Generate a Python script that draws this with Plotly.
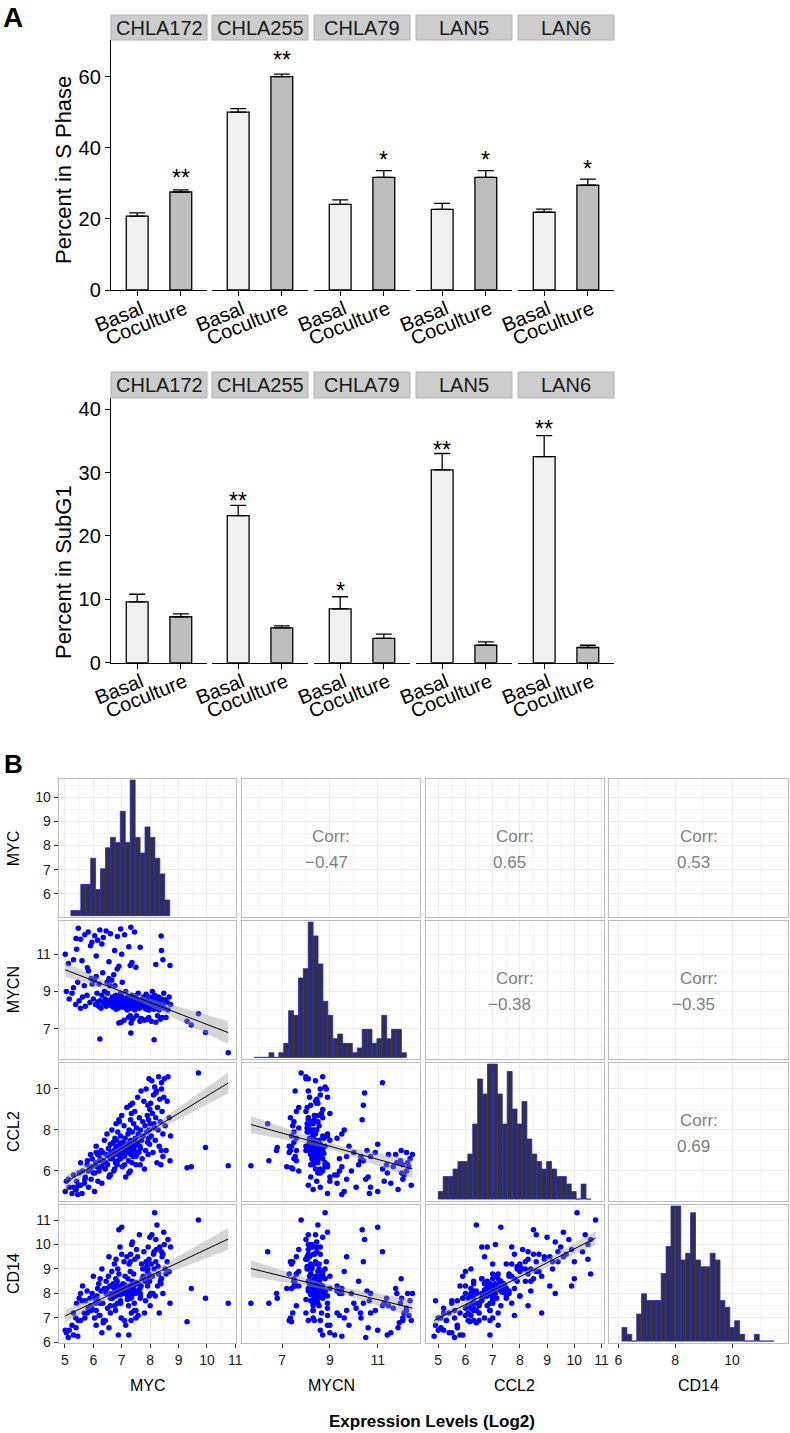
import numpy as np
import plotly.graph_objects as go

FONT = "Liberation Sans, Arial, Helvetica, sans-serif"
W, H = 790, 1433

# ---------------- Panel A data ----------------
CELL_LINES = ["CHLA172", "CHLA255", "CHLA79", "LAN5", "LAN6"]
CONDITIONS = ["Basal", "Coculture"]

SPHASE_BASAL = [20.8, 50.1, 24.1, 22.7, 21.9]
SPHASE_BASAL_ERR = [0.9, 1.0, 1.3, 1.7, 0.9]
SPHASE_COCULT = [27.6, 60.1, 31.7, 31.7, 29.5]
SPHASE_COCULT_ERR = [0.6, 0.7, 1.9, 1.9, 1.7]
SPHASE_SIG = ["**", "**", "*", "*", "*"]          # marked on Coculture
SPHASE_SIG_Y = [33.0, 66.2, 38.0, 38.0, 35.5]

SUBG1_BASAL = [9.6, 23.2, 8.5, 30.4, 32.5]
SUBG1_BASAL_ERR = [1.2, 1.6, 1.9, 2.6, 3.3]
SUBG1_COCULT = [7.25, 5.5, 3.85, 2.75, 2.4]
SUBG1_COCULT_ERR = [0.45, 0.3, 0.65, 0.55, 0.35]
SUBG1_SIG = ["", "**", "*", "**", "**"]           # marked on Basal
SUBG1_SIG_Y = [0, 26.3, 12.1, 34.4, 37.6]

# ---------------- Panel B data ----------------
VARS = ["MYC", "MYCN", "CCL2", "CD14"]
CORR_TEXT = {(0, 1): "\u22120.47", (0, 2): "0.65", (0, 3): "0.53",
             (1, 2): "\u22120.38", (1, 3): "\u22120.35", (2, 3): "0.69"}

MYC = [
    5.05, 5.15, 5.25, 5.30, 5.38, 5.45, 5.50, 5.55, 5.62, 5.68,
    5.72, 5.78, 5.83, 5.88, 5.92, 5.96, 6.00, 6.04, 6.08, 6.10,
    6.13, 6.16, 6.19, 6.20, 6.24, 6.27, 6.30, 6.33, 6.36, 6.39,
    6.42, 6.45, 6.48, 6.50, 6.53, 6.55, 6.58, 6.60, 6.62, 6.65,
    6.67, 6.70, 6.72, 6.74, 6.76, 6.78, 6.79, 6.80, 6.80, 6.82,
    6.84, 6.86, 6.88, 6.90, 6.92, 6.94, 6.96, 6.98, 7.00, 7.02,
    7.04, 7.06, 7.08, 7.10, 7.12, 7.14, 7.16, 7.18, 7.20, 7.22,
    7.24, 7.26, 7.28, 7.30, 7.31, 7.32, 7.33, 7.34, 7.35, 7.36,
    7.37, 7.38, 7.39, 7.40, 7.42, 7.44, 7.46, 7.48, 7.50, 7.52,
    7.54, 7.56, 7.58, 7.60, 7.62, 7.64, 7.66, 7.68, 7.70, 7.72,
    7.74, 7.76, 7.78, 7.80, 7.82, 7.84, 7.86, 7.88, 7.90, 7.91,
    7.92, 7.93, 7.94, 7.95, 7.96, 7.97, 7.98, 7.99, 8.00, 8.02,
    8.04, 8.06, 8.08, 8.10, 8.12, 8.14, 8.16, 8.18, 8.20, 8.22,
    8.24, 8.26, 8.28, 8.30, 8.32, 8.34, 8.36, 8.38, 8.40, 8.42,
    8.45, 8.48, 8.50, 8.53, 8.56, 8.60, 8.63, 8.67, 8.72,
    6.85, 7.05, 6.95, 7.15, 6.75, 7.25, 7.45, 6.65, 7.00, 7.35,
    6.90, 7.55, 7.10, 6.80, 7.20, 7.40, 6.60, 7.30, 7.00, 7.65,
    6.70, 7.20, 7.50, 6.95, 7.10,
    5.47, 5.82, 6.23, 6.45, 6.96, 7.32, 7.45, 5.39, 5.70, 6.05,
    6.35, 6.60, 6.85, 7.10, 5.55, 8.39, 5.41, 5.90, 6.30, 6.75,
    7.00, 7.25, 7.65, 8.40, 5.79, 7.36, 7.50, 7.30, 8.45, 8.70,
    8.20, 5.01, 5.30, 5.12, 5.60, 6.10, 6.55, 5.95, 6.90, 6.15,
    9.30, 9.45, 9.70, 9.95, 10.75, 6.23, 8.14, 7.32,
]
MYCN = [
    9.0, 8.6, 8.9, 9.2, 8.3, 9.5, 8.5, 8.1, 8.7, 9.3,
    8.2, 8.8, 10.1, 8.4, 9.7, 9.4, 8.6, 9.6, 8.3, 9.8,
    8.9, 8.45, 8.2, 9.4, 8.5, 8.1, 8.8, 10.0, 8.35, 9.0,
    8.6, 8.2, 9.5, 8.9, 8.4, 9.7, 9.3, 8.55, 8.25, 9.6,
    8.7, 8.15, 9.9, 8.45, 9.3, 8.3, 8.8, 8.05, 8.6, 8.4,
    10.2, 8.1, 8.7, 7.3, 8.5, 8.25, 8.9, 7.35, 8.35, 9.5,
    8.2, 8.6, 7.45, 8.45, 8.15, 9.0, 8.3, 8.05, 8.7, 8.4,
    7.6, 8.2, 8.55, 7.7, 8.1, 8.35, 7.3, 8.65, 8.25, 8.8,
    7.5, 8.45, 8.3, 7.55, 8.2, 8.5, 8.0, 8.75, 8.3, 7.7,
    8.6, 8.15, 8.9, 8.4, 8.1, 7.4, 8.35, 7.55, 8.55, 7.5,
    8.25, 8.7, 8.45, 7.45, 8.1, 8.3, 8.85, 8.05, 8.5, 7.5,
    8.2, 8.6, 8.35, 7.6, 8.0, 8.45, 8.15, 8.7, 8.3, 8.5,
    7.4, 8.4, 9.0, 8.2, 8.6, 8.05, 8.8, 8.35, 7.35, 8.1,
    8.5, 7.7, 8.25, 8.7, 8.0, 8.45, 7.5, 8.2, 8.6, 7.6,
    8.3, 8.9, 8.1, 8.55, 7.6, 8.4, 8.0, 8.7, 8.3,
    8.30, 8.45, 8.20, 8.55, 8.40, 8.25, 8.60, 8.35, 8.15, 8.50,
    8.65, 8.30, 8.40, 8.20, 8.70, 8.10, 8.50, 8.35, 8.75, 8.45,
    8.25, 8.00, 8.55, 8.45, 8.30,
    12.40, 12.20, 12.30, 12.25, 12.35, 12.45, 12.20, 11.85, 12.05, 12.00,
    11.90, 12.10, 11.95, 12.05, 11.80, 11.98, 11.27, 11.45, 11.55, 11.20,
    11.00, 11.40, 11.37, 11.20, 10.28, 10.55, 10.30, 10.40, 10.70, 10.40,
    10.45, 11.00, 10.70, 10.50, 10.65, 10.90, 10.60, 11.65, 10.35, 11.75,
    7.40, 7.20, 7.80, 6.80, 5.70, 6.45, 6.40, 6.77,
]
CCL2 = [
    5.5, 5.2, 4.9, 5.8, 5.1, 4.85, 5.9, 5.3, 6.0, 5.4,
    5.7, 6.3, 5.2, 6.1, 5.6, 6.6, 5.9, 5.0, 6.4, 7.2,
    6.2, 5.5, 6.8, 6.0, 6.6, 7.0, 6.2, 6.9, 6.5, 7.5,
    6.1, 6.8, 7.8, 6.3, 7.1, 6.7, 5.8, 7.3, 6.9, 8.0,
    6.6, 7.4, 6.0, 7.0, 7.6, 6.4, 7.2, 8.3, 6.8, 7.5,
    6.3, 7.9, 6.9, 7.2, 8.4, 6.6, 7.7, 7.0, 8.7, 6.2,
    7.4, 7.1, 8.2, 6.8, 7.6, 5.7, 7.3, 9.1, 7.0, 7.8,
    6.5, 8.0, 7.2, 6.0, 8.5, 7.5, 6.9, 8.8, 7.1, 6.4,
    7.9, 9.3, 7.4, 6.7, 8.3, 7.0, 8.9, 7.6, 6.3, 8.1,
    7.3, 9.6, 7.8, 6.9, 8.6, 7.2, 8.0, 9.9, 7.5, 6.6,
    8.4, 7.7, 9.4, 6.1, 8.2, 7.0, 10.0, 7.9, 8.7, 7.4,
    9.2, 6.8, 8.5, 7.6, 10.5, 8.0, 7.3, 9.0, 8.3, 9.3,
    7.7, 10.4, 8.8, 6.9, 9.7, 8.1, 10.1, 7.5, 8.6, 9.9,
    6.4, 9.1, 8.0, 10.6, 7.2, 9.5, 8.4, 6.3, 10.0, 8.9,
    7.8, 9.6, 10.5, 8.2, 7.0, 9.4, 10.6, 8.6, 7.7,
    6.95, 7.05, 6.85, 7.15, 7.00, 6.90, 7.20, 6.75, 7.30, 7.00,
    6.80, 7.40, 6.70, 7.10, 6.95, 7.25, 6.60, 7.45, 6.85, 7.10,
    6.95, 7.00, 6.75, 7.35, 7.05,
    5.3, 6.0, 6.2, 6.4, 6.6, 6.8, 6.9, 5.1, 5.6, 5.9,
    6.4, 5.8, 6.5, 6.3, 6.4, 7.0, 5.5, 6.8, 5.4, 6.1,
    7.3, 5.9, 6.3, 10.3, 6.5, 7.0, 6.7, 9.2, 6.7, 6.5,
    9.8, 5.0, 5.2, 5.6, 4.9, 6.9, 5.7, 6.2, 8.5, 6.8,
    6.16, 6.20, 10.78, 7.15, 6.26, 6.50, 8.30, 7.00,
]
CD14 = [
    6.4, 6.5, 6.7, 6.3, 7.0, 6.25, 7.8, 6.9, 8.3, 7.2,
    7.7, 8.1, 7.4, 7.8, 7.3, 8.0, 8.7, 7.0, 7.6, 6.7,
    7.9, 7.7, 8.4, 7.1, 8.6, 8.1, 9.0, 7.6, 6.9, 8.2,
    6.9, 8.5, 8.2, 7.4, 8.7, 9.5, 8.3, 7.5, 8.0, 8.9,
    7.8, 8.4, 8.0, 9.2, 8.1, 7.3, 8.6, 9.4, 7.9, 8.2,
    8.5, 9.0, 6.3, 8.8, 8.1, 9.9, 7.6, 7.0, 9.6, 8.0,
    8.4, 8.3, 9.3, 8.0, 8.7, 6.7, 8.2, 9.5, 7.9, 8.6,
    7.5, 9.2, 8.3, 8.9, 9.6, 7.8, 6.9, 7.2, 10.0, 8.1,
    8.5, 10.1, 8.2, 8.4, 8.8, 7.6, 9.4, 8.0, 7.3, 9.8,
    8.1, 9.5, 7.1, 8.4, 10.4, 8.2, 7.9, 8.3, 9.2, 8.6,
    9.0, 8.7, 9.7, 7.2, 8.5, 7.7, 9.3, 9.1, 8.9, 8.3,
    9.0, 9.9, 8.6, 8.8, 9.4, 7.9, 8.5, 10.3, 7.5, 8.0,
    9.2, 10.4, 8.7, 8.0, 9.6, 9.0, 11.3, 7.9, 9.3, 9.8,
    10.8, 8.3, 9.1, 8.8, 7.2, 9.9, 8.5, 8.4, 8.6, 9.5,
    9.6, 10.5, 10.0, 9.0, 8.8, 9.3, 10.2, 8.9, 9.9,
    8.05, 8.15, 7.95, 8.25, 8.00, 8.10, 8.35, 7.90, 8.20, 7.85,
    8.30, 8.05, 8.15, 8.40, 7.95, 8.20, 7.80, 8.30, 8.10, 8.00,
    8.25, 7.75, 8.45, 8.05, 8.35,
    6.9, 7.4, 7.1, 8.0, 7.7, 8.0, 7.3, 6.6, 7.0, 7.8,
    6.8, 7.2, 7.6, 6.9, 8.0, 8.6, 7.6, 7.5, 6.4, 7.5,
    10.7, 6.3, 7.8, 9.7, 7.2, 8.1, 7.0, 9.3, 8.0, 7.6,
    10.2, 6.5, 7.2, 6.2, 7.7, 7.3, 6.6, 7.4, 10.6, 8.2,
    6.85, 8.20, 11.00, 7.80, 7.60, 7.60, 9.70, 8.00,
]

# histogram bars of the diagonal (bin start, bin width, counts)
MYC_HIST_START, MYC_HIST_BINW = 5.21, 0.174
MYC_HIST_COUNTS = [1, 1, 6, 6, 11, 5, 9, 13, 15, 14, 20, 14, 26, 15, 12, 17, 15, 11, 8, 3]
MYCN_HIST_START, MYCN_HIST_BINW = 5.84, 0.205
MYCN_HIST_COUNTS = [0, 0, 0, 1, 0, 1, 3, 10, 9, 17, 19, 29, 26, 20, 12, 9, 4, 5, 3, 3,
                    1, 2, 6, 6, 3, 4, 9, 4, 6, 6, 1]
CCL2_HIST_START, CCL2_HIST_BINW = 5.0, 0.181
CCL2_HIST_COUNTS = [1, 3, 3, 4, 5, 5, 6, 10, 16, 14, 18, 18, 14, 10, 17, 12, 10, 13, 8, 6,
                    5, 4, 5, 4, 3, 3, 2, 1, 0, 2, 0]
CD14_HIST_START, CD14_HIST_BINW = 6.127, 0.1725
CD14_HIST_COUNTS = [2, 1, 0, 4, 7, 6, 6, 6, 10, 14, 20, 20, 12, 13, 19, 12, 11, 11, 13, 12,
                    6, 5, 2, 3, 1, 0, 0, 1, 0, 0, 0]


def X(px):
    return px / W


def Y(py):
    return 1 - py / H


def axname(kind, i):
    return f"{kind}axis" if i == 1 else f"{kind}axis{i}"


def axref(kind, i):
    return kind if i == 1 else f"{kind}{i}"


fig = go.Figure()
lay = {}
annotations = []
shapes = []

# ================= PART A =================
A_LEFT = [111, 212, 314, 416, 518]
A_W = 96
A_ROWS = [
    dict(strip=(15, 40), plot=(40, 290), yr=[0, 70.4], yt=[0, 20, 40, 60],
         basal=SPHASE_BASAL, berr=SPHASE_BASAL_ERR, cocult=SPHASE_COCULT,
         cerr=SPHASE_COCULT_ERR, sig=SPHASE_SIG, sigy=SPHASE_SIG_Y, sigcond="Coculture",
         title="Percent in S Phase", title_y=170),
    dict(strip=(372, 398), plot=(398, 662.7), yr=[0, 41.75], yt=[0, 10, 20, 30, 40],
         basal=SUBG1_BASAL, berr=SUBG1_BASAL_ERR, cocult=SUBG1_COCULT,
         cerr=SUBG1_COCULT_ERR, sig=SUBG1_SIG, sigy=SUBG1_SIG_Y, sigcond="Basal",
         title="Percent in SubG1", title_y=572),
]

idx = 0
for r, row in enumerate(A_ROWS):
    for i, cl in enumerate(CELL_LINES):
        idx += 1
        xr, yr_ = axref("x", idx), axref("y", idx)
        left = A_LEFT[i]
        fig.add_trace(go.Bar(
            x=CONDITIONS, y=[row["basal"][i], row["cocult"][i]], width=0.5,
            marker=dict(color=["#F0F0F0", "#BEBEBE"], line=dict(color="black", width=1.3)),
            error_y=dict(type="data", symmetric=False, array=[row["berr"][i], row["cerr"][i]],
                         arrayminus=[0, 0], color="black", thickness=1.3, width=8),
            xaxis=xr, yaxis=yr_, showlegend=False, hoverinfo="skip"))
        lay[axname("x", idx)] = dict(
            domain=[X(left), X(left + A_W)], anchor=yr_, type="category",
            categoryorder="array", categoryarray=CONDITIONS, range=[-0.6, 1.6],
            showline=True, linecolor="black", linewidth=1.3, ticks="outside", ticklen=5,
            tickwidth=1.3, tickcolor="black", tickangle=-22, ticklabelshift=4,
            ticklabelstandoff=-6,
            tickfont=dict(size=20, color="black", family=FONT), automargin=False,
            showgrid=False, zeroline=False, fixedrange=True)
        first = i == 0
        lay[axname("y", idx)] = dict(
            domain=[Y(row["plot"][1]), Y(row["plot"][0])], anchor=xr, range=row["yr"],
            showline=first, linecolor="black", linewidth=1.3,
            ticks="outside" if first else "", ticklen=5, tickwidth=1.3, tickcolor="black",
            tickmode="array", tickvals=row["yt"], showticklabels=first, automargin=False,
            tickfont=dict(size=20, color="black", family=FONT),
            showgrid=False, zeroline=False, fixedrange=True)
        # facet strip
        shapes.append(dict(type="rect", xref="paper", yref="paper",
                           x0=X(left), x1=X(left + A_W), y0=Y(row["strip"][1]), y1=Y(row["strip"][0]),
                           fillcolor="#CCCCCC", line=dict(color="#B4B4B4", width=1), layer="above"))
        annotations.append(dict(text=cl, xref="paper", yref="paper", x=X(left + A_W / 2),
                                y=Y((row["strip"][0] + row["strip"][1]) / 2), showarrow=False,
                                xanchor="center", yanchor="middle",
                                font=dict(size=20, color="#1a1a1a", family=FONT)))
        # significance stars
        if row["sig"][i]:
            annotations.append(dict(text=row["sig"][i], xref=xr, yref=yr_, x=row["sigcond"],
                                    y=row["sigy"][i], showarrow=False, xanchor="center",
                                    yanchor="middle", yshift=-5,
                                    font=dict(size=23, color="black", family=FONT)))
    annotations.append(dict(text=row["title"], xref="paper", yref="paper", x=X(63), y=Y(row["title_y"]),
                            textangle=-90, showarrow=False, xanchor="center", yanchor="middle",
                            font=dict(size=22, color="black", family=FONT)))

# ================= PART B =================
DATA = [np.array(MYC), np.array(MYCN), np.array(CCL2), np.array(CD14)]
HISTS = [(MYC_HIST_START, MYC_HIST_BINW, MYC_HIST_COUNTS),
         (MYCN_HIST_START, MYCN_HIST_BINW, MYCN_HIST_COUNTS),
         (CCL2_HIST_START, CCL2_HIST_BINW, CCL2_HIST_COUNTS),
         (CD14_HIST_START, CD14_HIST_BINW, CD14_HIST_COUNTS)]
COLS_PX = [(58.7, 236.3), (242.3, 420.3), (426, 603.7), (609.3, 787.7)]
ROWS_PX = [(779.3, 917.3), (921.3, 1059), (1063.3, 1200.7), (1205.3, 1342.7)]
XRANGE = [[4.78, 11.035], [5.34, 12.78], [4.55, 11.08], [5.68, 11.96]]
XTICK = [(5, 1), (7, 2), (5, 1), (6, 2)]
YRANGE = [[5.02, 10.75], [5.37, 12.77], [4.55, 11.25], [5.99, 11.6]]
YTICK = [(6, 1), (7, 2), (6, 2), (6, 1)]


def b_axis(domain, rng, tick, show, anchor):
    t0, dt = tick
    return dict(domain=domain, range=rng, anchor=anchor, tickmode="linear", tick0=t0, dtick=dt,
                showticklabels=show, ticks="outside" if show else "", ticklen=4, tickwidth=1,
                tickcolor="#333333", tickfont=dict(size=14, color="#1a1a1a", family=FONT),
                showline=True, mirror=True, linecolor="#BDBDBD", linewidth=1,
                showgrid=True, gridcolor="#EBEBEB", gridwidth=1, automargin=False,
                minor=dict(tick0=t0, dtick=dt / 2, showgrid=True, gridcolor="#F5F5F5", gridwidth=0.6),
                zeroline=False, fixedrange=True)


B0 = 11
hist_axis = 27
for r in range(4):
    for c in range(4):
        k = B0 + r * 4 + c
        xr, yr_ = axref("x", k), axref("y", k)
        xdom = [X(COLS_PX[c][0]), X(COLS_PX[c][1])]
        ydom = [Y(ROWS_PX[r][1]), Y(ROWS_PX[r][0])]
        lay[axname("x", k)] = b_axis(xdom, XRANGE[c], XTICK[c], r == 3, yr_)
        lay[axname("y", k)] = b_axis(ydom, YRANGE[r], YTICK[r], c == 0, xr)
        if r <= c:
            # empty trace so the panel frame and grid are drawn
            fig.add_trace(go.Scatter(x=[], y=[], mode="markers", xaxis=xr, yaxis=yr_,
                                     showlegend=False, hoverinfo="skip"))
        if r == c:
            start, bw, counts = HISTS[c]
            centers = [start + bw * (j + 0.5) for j in range(len(counts))]
            m = max(counts)
            hx, hy = axref("x", hist_axis), axref("y", hist_axis)
            lay[axname("x", hist_axis)] = dict(domain=xdom, range=XRANGE[c], anchor=hy, visible=False,
                                               showgrid=False, zeroline=False, fixedrange=True,
                                               automargin=False)
            lay[axname("y", hist_axis)] = dict(domain=ydom, range=[-0.012 * m, 1.005 * m], anchor=hx,
                                               visible=False, showgrid=False, zeroline=False,
                                               fixedrange=True, automargin=False)
            fig.add_trace(go.Bar(x=centers, y=counts, width=bw,
                                 marker=dict(color="#30304A", line=dict(color="#2828C8", width=0.8)),
                                 xaxis=hx, yaxis=hy, showlegend=False, hoverinfo="skip"))
            hist_axis += 1
        elif r > c:
            x = DATA[c]
            y = DATA[r]
            fig.add_trace(go.Scatter(x=x, y=y, mode="markers",
                                     marker=dict(size=5.5, color="#0000FF", line=dict(width=0)),
                                     xaxis=xr, yaxis=yr_, showlegend=False, hoverinfo="skip"))
            n = len(x)
            b, a = np.polyfit(x, y, 1)
            xm = x.mean()
            resid = y - (a + b * x)
            s = np.sqrt((resid ** 2).sum() / (n - 2))
            sxx = ((x - xm) ** 2).sum()
            xs = np.linspace(x.min(), x.max(), 80)
            fit = a + b * xs
            se = s * np.sqrt(1.0 / n + (xs - xm) ** 2 / sxx)
            tval = 1.971
            up, lo = fit + tval * se, fit - tval * se
            fig.add_trace(go.Scatter(x=np.concatenate([xs, xs[::-1]]), y=np.concatenate([up, lo[::-1]]),
                                     mode="lines", fill="toself", fillcolor="rgba(153,153,153,0.4)",
                                     line=dict(width=0), xaxis=xr, yaxis=yr_, showlegend=False,
                                     hoverinfo="skip"))
            fig.add_trace(go.Scatter(x=xs, y=fit, mode="lines", line=dict(color="black", width=1),
                                     xaxis=xr, yaxis=yr_, showlegend=False, hoverinfo="skip"))
        else:
            cx = X((COLS_PX[c][0] + COLS_PX[c][1]) / 2)
            cy = Y((ROWS_PX[r][0] + ROWS_PX[r][1]) / 2)
            annotations.append(dict(text="Corr:", xref="paper", yref="paper", x=cx, y=cy, yshift=11.6,
                                    showarrow=False, xanchor="center", yanchor="middle",
                                    font=dict(size=17, color="#808080", family=FONT)))
            annotations.append(dict(text=CORR_TEXT[(r, c)], xref="paper", yref="paper", x=cx, y=cy,
                                    yshift=-14, xshift=-5, showarrow=False, xanchor="center",
                                    yanchor="middle", font=dict(size=17, color="#808080", family=FONT)))

for i, v in enumerate(VARS):
    annotations.append(dict(text=v, xref="paper", yref="paper", x=X(13),
                            y=Y((ROWS_PX[i][0] + ROWS_PX[i][1]) / 2), textangle=-90, showarrow=False,
                            xanchor="center", yanchor="middle", font=dict(size=16, color="black", family=FONT)))
    annotations.append(dict(text=v, xref="paper", yref="paper", x=X((COLS_PX[i][0] + COLS_PX[i][1]) / 2),
                            y=Y(1385.7), showarrow=False, xanchor="center", yanchor="middle",
                            font=dict(size=16, color="black", family=FONT)))

annotations.append(dict(text="<b>Expression Levels (Log2)</b>", xref="paper", yref="paper", x=X(432),
                        y=Y(1421), showarrow=False, xanchor="center", yanchor="middle",
                        font=dict(size=17, color="black", family=FONT)))
annotations.append(dict(text="<b>A</b>", xref="paper", yref="paper", x=X(1), y=1.0, showarrow=False,
                        xanchor="left", yanchor="top", font=dict(size=28, color="black", family=FONT)))
annotations.append(dict(text="<b>B</b>", xref="paper", yref="paper", x=X(2), y=Y(764), showarrow=False,
                        xanchor="left", yanchor="middle", font=dict(size=26, color="black", family=FONT)))

lay.update(dict(template="none", width=W, height=H, autosize=False,
                margin=dict(l=0, r=0, t=0, b=0, pad=0),
                paper_bgcolor="white", plot_bgcolor="rgba(0,0,0,0)", showlegend=False, barmode="overlay",
                font=dict(family=FONT), annotations=annotations, shapes=shapes))
fig.update_layout(**lay)

fig.write_html("out.html", config={"displayModeBar": False},
               post_script="document.body.style.margin='0';")
